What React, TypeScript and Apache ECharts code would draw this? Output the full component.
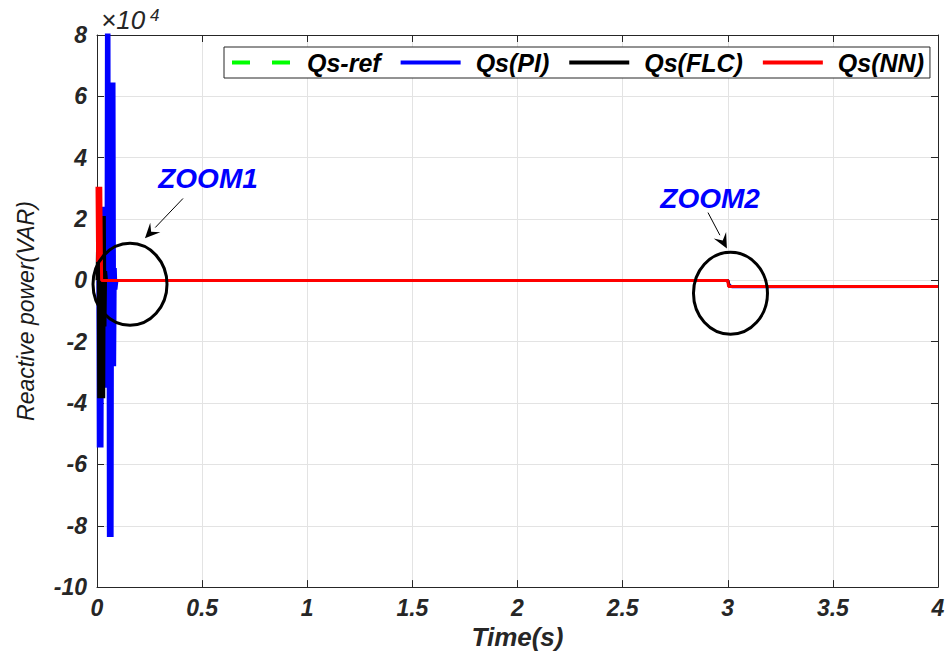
import React, { useEffect, useRef } from "react";
import * as echarts from "echarts";

// ---- data (values in units of 10^4 VAR) ----
const timeRef = [0, 3, 3, 4];
const qsRef = [0, 0, -0.2, -0.2];

const timePI = [0, 0.004, 0.006, 0.009, 0.012, 0.015, 0.018, 0.021, 0.024, 0.027, 0.03, 0.033, 0.036, 0.039, 0.042, 0.045, 0.048, 0.051, 0.054, 0.057, 0.06, 0.063, 0.066, 0.069, 0.072, 0.075, 0.078, 0.081, 0.084, 0.087, 0.09, 0.095, 3.0, 3.006, 3.02, 4];
const qsPI = [0, 0, -5.45, 2.4, -5.45, 2.4, -5.45, 2.4, -5.45, 2.4, -3.5, 2.4, -3.5, 2.4, -3.5, 9, -3.5, 9, -8.37, 9, -8.37, 6.45, -8.37, 6.45, -8.37, 6.45, -2.8, 6.45, -2.8, 0.4, -0.3, 0, 0, -0.15, -0.21, -0.2];

const timeFLC = [0, 0.005, 0.008, 0.011, 0.014, 0.017, 0.02, 0.023, 0.026, 0.029, 0.032, 0.035, 0.038, 0.041, 0.045, 3.0, 3.008, 4];
const qsFLC = [0, 2.1, -3.84, 2.1, -3.84, 2.1, -3.84, 2.1, -3.84, 2.1, -3.84, 2.1, -1.5, 0.3, 0, 0, -0.2, -0.2];

const timeNN = [0, 0.003, 0.006, 0.009, 0.012, 0.015, 0.018, 0.021, 0.022, 3.0, 3.004, 4];
const qsNN = [3.05, 0.6, 3.05, 0.6, 3.05, 0.6, 3.05, 0.6, 0, 0, -0.2, -0.2];

const seriesNames = ["Qs-ref", "Qs(PI)", "Qs(FLC)", "Qs(NN)"];
const seriesColors = ["#00ff00", "#0000ff", "#000000", "#ff0000"];

// annotation anchors in data coordinates
const zoomLabels = ["ZOOM1", "ZOOM2"];
const zoomLabelPos = [[0.528, 3.32], [2.916, 2.67]];
const arrowFrom = [[0.409, 2.67], [2.906, 2.21]];
const arrowTo = [[0.228, 1.37], [2.996, 1.04]];
const ellipseCenter = [[0.157, -0.13], [3.013, -0.42]];

const zip = (t: number[], v: number[]) => t.map((x, i) => [x, v[i]]);

const FONT = "'Liberation Sans', Arial, Helvetica, sans-serif";

export default function App() {
  const ref = useRef<HTMLDivElement>(null);
  useEffect(() => {
    if (!ref.current) return;
    const chart = echarts.init(ref.current, null, { renderer: "svg" });
    const tickLabel = {
      fontFamily: FONT,
      fontWeight: "bold" as const,
      fontStyle: "italic" as const,
      fontSize: 23,
      color: "#262626",
    };
    const datasets = [zip(timeRef, qsRef), zip(timePI, qsPI), zip(timeFLC, qsFLC), zip(timeNN, qsNN)];
    chart.setOption({
      animation: false,
      backgroundColor: "#ffffff",
      grid: { left: 97, right: 10, top: 35, bottom: 67, containLabel: false },
      legend: {
        left: 224,
        top: 47,
        padding: [3, 6, 3, 6],
        itemGap: 18,
        itemWidth: 60,
        itemHeight: 12,
        borderColor: "#262626",
        borderWidth: 1,
        backgroundColor: "#ffffff",
        data: seriesNames,
        itemStyle: { opacity: 0 },
        lineStyle: { width: 4 },
        textStyle: { ...tickLabel, color: "#000", fontSize: 25, padding: [0, 0, 0, 10] },
      },
      xAxis: [
        {
          type: "value",
          min: 0,
          max: 4,
          interval: 0.5,
          name: "Time(s)",
          nameLocation: "middle",
          nameGap: 32,
          nameTextStyle: { ...tickLabel, fontSize: 26 },
          axisLine: { show: true, onZero: false, lineStyle: { color: "#262626", width: 1 } },
          axisTick: { show: true, inside: true, length: 7, lineStyle: { color: "#262626" } },
          axisLabel: { ...tickLabel, margin: 9 },
          splitLine: { show: true, lineStyle: { color: "#e3e3e3", width: 1 } },
        },
        {
          type: "value",
          position: "top",
          min: 0,
          max: 4,
          interval: 0.5,
          axisLine: { show: true, onZero: false, lineStyle: { color: "#262626", width: 1 } },
          axisTick: { show: true, inside: true, length: 7, lineStyle: { color: "#262626" } },
          axisLabel: { show: false },
          splitLine: { show: false },
        },
      ],
      yAxis: [
        {
          type: "value",
          min: -10,
          max: 8,
          interval: 2,
          name: "Reactive power(VAR)",
          nameLocation: "middle",
          nameGap: 60,
          nameTextStyle: { fontFamily: FONT, fontStyle: "italic", fontSize: 23, color: "#1a1a1a" },
          axisLine: { show: true, onZero: false, lineStyle: { color: "#262626", width: 1 } },
          axisTick: { show: true, inside: true, length: 7, lineStyle: { color: "#262626" } },
          axisLabel: { ...tickLabel, margin: 10 },
          splitLine: { show: true, lineStyle: { color: "#e3e3e3", width: 1 } },
        },
        {
          type: "value",
          position: "right",
          min: -10,
          max: 8,
          interval: 2,
          axisLine: { show: true, onZero: false, lineStyle: { color: "#262626", width: 1 } },
          axisTick: { show: true, inside: true, length: 7, lineStyle: { color: "#262626" } },
          axisLabel: { show: false },
          splitLine: { show: false },
        },
      ],
      series: seriesNames.map((name, i) => ({
        name,
        type: "line",
        xAxisIndex: 0,
        yAxisIndex: 0,
        data: datasets[i],
        symbol: "none",
        showSymbol: false,
        clip: true,
        color: seriesColors[i],
        lineStyle: {
          color: seriesColors[i],
          width: 3,
          type: i === 0 ? [18, 22] : "solid",
        },
        z: 2 + i,
      })),
    });

    const px = (p: number[]) => chart.convertToPixel({ gridIndex: 0 }, p) as number[];
    const graphics: any[] = [
      {
        type: "text",
        x: 101,
        y: 20,
        style: { text: "×10", fontFamily: FONT, fontStyle: "italic", fontSize: 26, fill: "#262626", textVerticalAlign: "middle" },
      },
      {
        type: "text",
        x: 150,
        y: 15,
        style: { text: "4", fontFamily: FONT, fontStyle: "italic", fontSize: 17, fill: "#262626", textVerticalAlign: "middle" },
      },
    ];
    for (let i = 0; i < 2; i++) {
      const lp = px(zoomLabelPos[i]);
      graphics.push({
        type: "text",
        x: lp[0],
        y: lp[1],
        style: {
          text: zoomLabels[i],
          fontFamily: FONT,
          fontStyle: "italic",
          fontWeight: "bold",
          fontSize: 28,
          fill: "#0000ff",
          textAlign: "center",
          textVerticalAlign: "middle",
        },
      });
      const a = px(arrowFrom[i]);
      const b = px(arrowTo[i]);
      const dx = b[0] - a[0];
      const dy = b[1] - a[1];
      const len = Math.sqrt(dx * dx + dy * dy);
      const ux = dx / len;
      const uy = dy / len;
      const hl = 15;
      const hw = 7;
      const bx = b[0] - ux * hl;
      const by = b[1] - uy * hl;
      graphics.push({
        type: "line",
        shape: { x1: a[0], y1: a[1], x2: bx, y2: by },
        style: { stroke: "#000", lineWidth: 1 },
      });
      graphics.push({
        type: "polygon",
        shape: {
          points: [
            [b[0], b[1]],
            [bx - uy * hw, by + ux * hw],
            [b[0] - ux * hl * 0.6, b[1] - uy * hl * 0.6],
            [bx + uy * hw, by - ux * hw],
          ],
        },
        style: { fill: "#000" },
      });
      const c = px(ellipseCenter[i]);
      graphics.push({
        type: "ellipse",
        shape: { cx: c[0], cy: c[1], rx: 37, ry: 41 },
        style: { fill: "none", stroke: "#000", lineWidth: 3 },
        z: 100,
      });
    }
    chart.setOption({ graphic: graphics });

    return () => chart.dispose();
  }, []);
  return (
    <div
      ref={ref}
      style={{ position: "fixed", left: 0, top: 0, width: 948, height: 655, background: "#fff" }}
    />
  );
}
